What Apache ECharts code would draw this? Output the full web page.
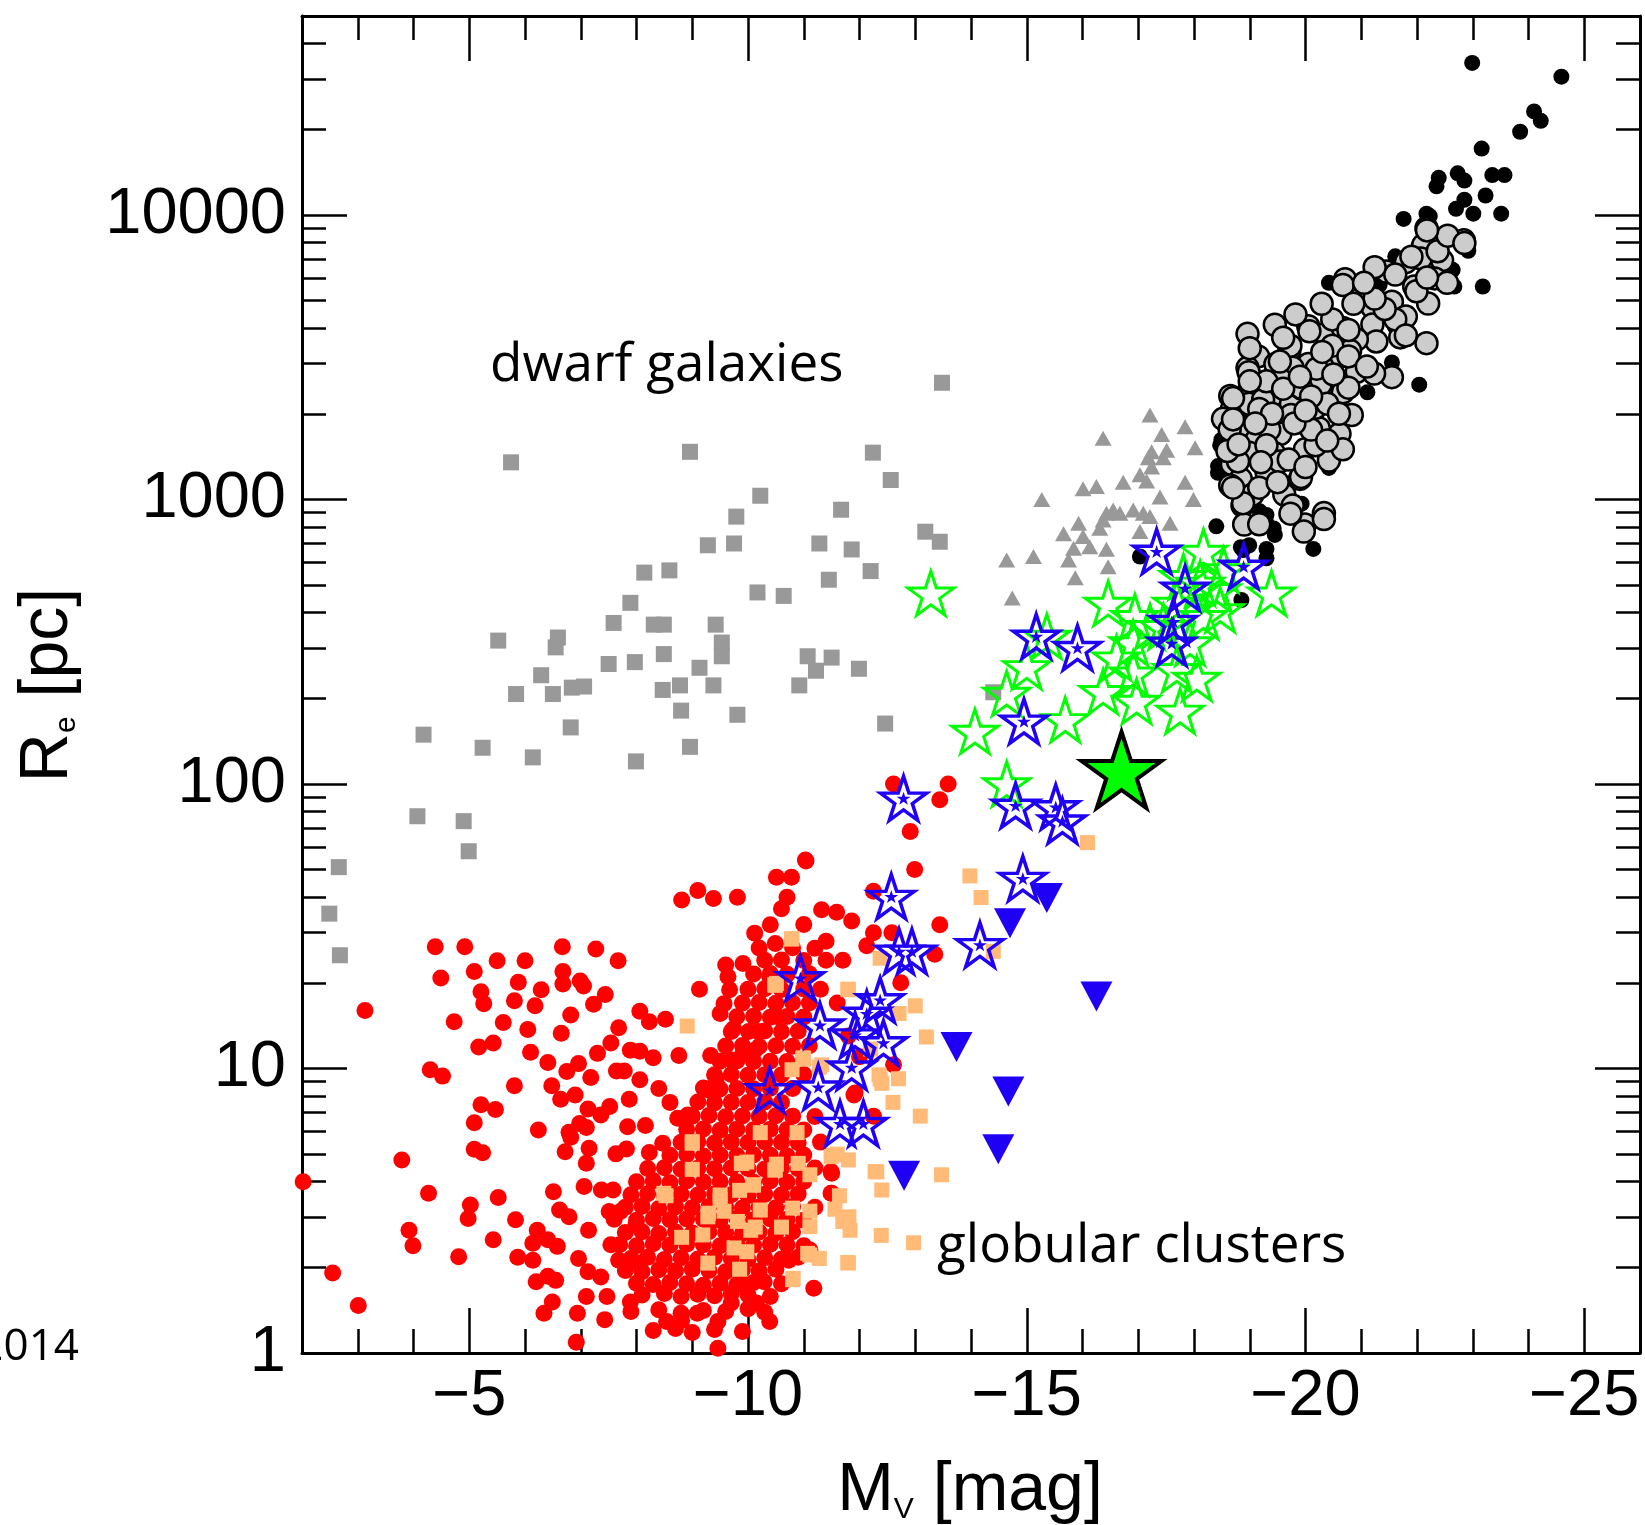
<!DOCTYPE html>
<html><head><meta charset="utf-8">
<script src="https://cdn.jsdelivr.net/npm/echarts@6/dist/echarts.min.js"></script>
<style>html,body{margin:0;padding:0;background:#fff}#chart{width:1645px;height:1525px}</style>
</head><body><div id="chart"></div>
<script>
// ---------------- tick values ----------------
const xMajorTicks = [-25, -20, -15, -10, -5];
const yMajorTicks = [1, 10, 100, 1000, 10000];
const yMinorTicks = [2,3,4,5,6,7,8,9,20,30,40,50,60,70,80,90,200,300,400,500,600,700,800,900,
  2000,3000,4000,5000,6000,7000,8000,9000,20000,30000,40000];

// ---------------- data: [Mv, Re(pc)] ----------------
const dwarfSquares = [[-13.48,2570],[-5.75,1350],[-8.96,1470],[-12.24,1460],[-12.56,1170],[-10.22,1030],[-9.79,870],[-11.67,920],[-9.28,690],[-9.75,700],[-13.18,770],[-13.44,710],[-11.28,700],[-11.86,667],[-8.14,553],[-8.59,563],[-12.2,560],[-11.45,522],[-10.17,471],[-10.64,458],[-7.89,433],[-7.59,368],[-8.31,363],[-8.49,363],[-9.42,363],[-9.53,314],[-9.53,281],[-5.52,319],[-6.59,327],[-6.55,302],[-8.49,286],[-7.5,264],[-7.97,268],[-9.13,256],[-11.07,281],[-11.5,278],[-11.99,254],[-6.29,241],[-11.22,250],[-5.84,207],[-6.5,207],[-6.84,218],[-7.06,220],[-8.47,214],[-8.78,222],[-9.38,222],[-10.92,222],[-8.8,181],[-4.18,149],[-6.82,158],[-9.81,175],[-12.46,163],[-5.24,134],[-6.14,124],[-8.96,135],[-7.99,120],[-4.07,77],[-4.9,74],[-4.99,58],[-2.66,51],[-2.49,35],[-2.68,25],[-14.4,210]];

const dwarfTriangles = [[-17.21,1980],[-17.84,1800],[-17.42,1690],[-16.37,1640],[-18.02,1520],[-17.24,1470],[-17.51,1490],[-17.18,1400],[-17.45,1400],[-17.24,1300],[-17.03,1220],[-16.73,1150],[-17.15,1160],[-17.84,1150],[-16.01,1090],[-16.25,1110],[-15.27,1000],[-17.39,1020],[-17.99,1000],[-16.55,918],[-16.43,894],[-16.91,918],[-16.67,894],[-17.09,894],[-16.37,847],[-17.21,870],[-15.93,825],[-17.57,825],[-16.31,792],[-15.66,757],[-16.01,740],[-17.03,771],[-16.13,682],[-15.84,673],[-16.43,668],[-14.64,613],[-15.12,630],[-15.75,613],[-16.46,580],[-15.87,531],[-14.74,450]];

const redGlobulars = [
[-2.02,4.0],[-2.55,1.91],[-3.01,1.47],[-3.13,16],[-3.79,4.77],[-3.92,2.7],[-3.99,2.38],[-4.27,3.64],[-4.81,2.18],[-5.02,3.31],[-4.98,2.97],[-4.39,26.8],[-4.92,26.8],[-4.49,20.8],[-5.09,21.9],[-4.73,14.6],[-5.21,18.6],[-5.26,16.9],[-5.5,23.9],[-6.0,23.9],[-6.67,26.8],[-7.27,26.3],[-7.67,23.9],[-5.61,14.5],[-5.81,17.3],[-5.88,20.1],[-6.29,18.9],[-6.18,16.6],[-6.05,13.7],[-6.68,21.9],[-6.68,19.8],[-6.99,20.3],[-7.05,19.5],[-7.44,18.2],[-7.23,16.8],[-5.17,11.9],[-5.43,12.3],[-6.1,11.4],[-6.82,15.4],[-6.65,13.3],[-7.3,11.3],[-7.54,12.3],[-7.68,13.9],[-8.06,15.9],[-8.23,14.6],[-8.52,14.9],[-9.13,19],[-8.81,39.1],[-9.1,42.2],[-9.38,39.6],[-9.81,40],[-11.04,53.6],[-10.78,47],[-10.6,36.4],[-11.32,36.1],[-10.12,29.9],[-9.91,23.4],[-9.64,21],[-9.67,18.9],[-9.57,16.9],[-9.5,15.6],[-9.74,13.8],[-10.01,13.5],[-10.18,13.5],[-10.39,21],[-10.53,15.2],[-10.12,11.6],[-9.71,10.7],[-9.91,11.3],[-9.33,11.1],[-8.76,11.1],[-8.3,10.9],[-8.06,11.5],[-7.89,11.6],[-4.3,9.9],[-4.52,9.4],[-5.81,8.7],[-5.21,7.45],[-5.47,7.18],[-5.09,6.45],[-5.09,5.2],[-5.24,5.06],[-6.24,6.08],[-6.41,10.5],[-6.75,9.76],[-6.96,10.4],[-7.18,9.29],[-6.48,8.7],[-6.64,7.8],[-6.9,8.07],[-7.13,7.2],[-7.36,6.86],[-7.52,7.35],[-7.64,9.8],[-7.78,9.8],[-8.06,9.12],[-7.87,7.8],[-8.16,6.3],[-7.84,6.24],[-6.98,6.4],[-6.79,5.97],[-6.82,5.73],[-7.1,6.2],[-6.72,5.1],[-7.15,5.24],[-7.1,4.64],[-7.63,5.01],[-7.82,5.21],[-8.23,5.07],[-8.47,5.46],[-8.74,6.68],[-8.92,6.86],[-9.29,8.4],[-9.43,9.2],[-9.6,23.1],[-11.59,35.4],[-10.49,27.5],
[-5.52,3.52],[-5.43,2.5],[-5.83,2.94],[-6.22,2.7],[-6.14,2.43],[-6.41,2.5],[-6.58,2.37],[-5.87,2.17],[-6.14,2.12],[-6.2,1.78],[-6.55,1.8],[-6.41,1.86],[-6.49,1.51],[-6.34,1.38],[-6.94,1.38],[-6.92,1.09],[-7.1,1.58],[-7.47,1.58],[-7.43,1.31],[-7.89,1.51],[-6.96,2.15],[-7.13,1.93],[-7.36,1.85],[-7.54,2.4],[-6.51,3.69],[-6.62,3.18],[-6.79,3.01],[-7.14,2.7],[-7.06,3.85],[-7.37,3.74],[-7.58,3.74],[-7.51,3.14],[-7.71,3.14],[-7.99,2.82],[-7.68,2.12],[-8.02,2.07],[-8.54,1.29],[-8.81,1.3],[-9.09,1.38],[-9.46,1.29],[-9.46,1.04],[-9.7,1.5],[-10.15,1.5],[-10.39,1.29],[-11.18,1.69],[-10.73,2.12],[-10.29,1.78],[-9.88,1.76],[-11.49,4.34],[-11.49,3.64],[-11.11,2.3],[-11.9,8.07],
[-12.61,100],[-13.59,100],[-13.44,88],[-12.91,68],[-12.99,50],[-13.44,32],[-12.25,42],[-13.35,25.2],[-12.74,20],[-12.61,10.3],[-11.92,8.2],[-11.5,4.28],[-11.5,3.64],[-12.25,6.8],[-12.25,30],[-12.58,30],[-11.86,33],[-12.13,27],[-11.7,24],[-11.4,28],[-11.6,17],[-11.8,13],[-12.0,11],[-10.51,47],[-11.03,54],[-10.7,40],
[-8.3,1.2],[-8.7,1.22],[-9.0,1.18],[-9.4,1.21],[-9.9,1.19],
[-7.9,1.4],[-8.4,1.42],[-8.8,1.38],[-9.2,1.41],[-9.6,1.4],[-10.0,1.43],[-10.3,1.39],
[-8.1,1.6],[-8.5,1.62],[-8.8,1.58],[-9.1,1.61],[-9.4,1.59],[-9.7,1.62],[-10.0,1.6],[-10.4,1.58],
[-8.0,1.76],[-8.3,1.74],[-8.6,1.77],[-8.9,1.75],[-9.2,1.73],[-9.5,1.76],[-9.8,1.74],[-10.1,1.77],[-10.6,1.75],
[-7.8,1.95],[-8.1,1.93],[-8.4,1.96],[-8.7,1.94],[-9.0,1.97],[-9.3,1.95],[-9.6,1.93],[-9.9,1.96],[-10.2,1.94],[-10.5,1.97],
[-7.9,2.15],[-8.2,2.17],[-8.5,2.13],[-8.8,2.16],[-9.1,2.14],[-9.4,2.17],[-9.7,2.15],[-10.0,2.13],[-10.3,2.16],[-10.6,2.14],[-10.9,2.17],
[-7.7,2.4],[-8.0,2.38],[-8.3,2.42],[-8.6,2.39],[-8.9,2.41],[-9.2,2.4],[-9.5,2.38],[-9.8,2.42],[-10.1,2.39],[-10.4,2.41],[-10.7,2.4],[-11.0,2.38],
[-7.8,2.65],[-8.1,2.67],[-8.4,2.63],[-8.7,2.66],[-9.0,2.64],[-9.3,2.67],[-9.6,2.65],[-9.9,2.63],[-10.2,2.66],[-10.5,2.64],[-10.8,2.67],
[-7.6,2.95],[-8.0,2.93],[-8.3,2.97],[-8.6,2.94],[-8.9,2.96],[-9.2,2.95],[-9.5,2.93],[-9.8,2.97],[-10.1,2.94],[-10.4,2.96],[-10.7,2.95],[-11.0,2.93],
[-7.8,3.25],[-8.1,3.28],[-8.4,3.22],[-8.7,3.26],[-9.0,3.24],[-9.3,3.27],[-9.6,3.25],[-9.9,3.23],[-10.2,3.26],[-10.5,3.24],[-10.8,3.27],[-11.2,3.25],
[-7.9,3.6],[-8.2,3.63],[-8.5,3.58],[-8.8,3.61],[-9.1,3.59],[-9.4,3.62],[-9.7,3.6],[-10.0,3.57],[-10.3,3.61],[-10.6,3.59],[-10.9,3.62],
[-8.0,4.0],[-8.3,4.03],[-8.6,3.97],[-8.9,4.02],[-9.2,3.99],[-9.5,4.01],[-9.8,4.0],[-10.1,3.98],[-10.4,4.02],[-10.7,3.99],[-11.0,4.01],
[-8.2,4.45],[-8.5,4.48],[-8.8,4.42],[-9.1,4.46],[-9.4,4.44],[-9.7,4.47],[-10.0,4.45],[-10.3,4.43],[-10.6,4.46],[-10.9,4.44],[-11.2,4.47],
[-8.6,4.95],[-8.9,4.98],[-9.2,4.92],[-9.5,4.96],[-9.8,4.94],[-10.1,4.97],[-10.4,4.95],[-10.7,4.93],[-11.0,4.96],
[-8.8,5.5],[-9.1,5.53],[-9.4,5.47],[-9.7,5.51],[-10.0,5.49],[-10.3,5.52],[-10.6,5.5],[-10.9,5.48],[-11.3,5.51],
[-8.9,6.1],[-9.2,6.13],[-9.5,6.07],[-9.8,6.11],[-10.1,6.09],[-10.4,6.12],[-10.7,6.1],[-11.0,6.08],
[-9.0,6.8],[-9.3,6.83],[-9.6,6.77],[-9.9,6.81],[-10.2,6.79],[-10.5,6.82],[-10.8,6.8],[-11.2,6.78],
[-8.6,7.6],[-9.1,7.63],[-9.4,7.57],[-9.7,7.61],[-10.0,7.59],[-10.3,7.62],[-10.6,7.6],
[-8.4,8.5],[-9.2,8.53],[-9.5,8.47],[-9.8,8.51],[-10.1,8.49],[-10.4,8.52],[-10.8,8.5],
[-9.4,9.5],[-9.7,9.53],[-10.0,9.47],[-10.3,9.51],[-10.6,9.49],[-11.0,9.52],
[-9.5,10.6],[-9.8,10.63],[-10.1,10.57],[-10.4,10.61],[-10.7,10.59],
[-9.6,12],[-9.9,12.05],[-10.2,11.95],[-10.5,12.02],[-10.8,11.98],[-11.1,12.01],
[-9.7,13.5],[-10.3,13.55],[-10.6,13.45],[-10.9,13.52],
[-9.8,15.2],[-10.1,15.25],[-10.4,15.15],[-10.7,15.22],[-11.0,15.18],
[-9.9,17],[-10.2,17.05],[-10.5,16.95],[-10.8,17.02],[-11.1,16.98],
[-10.0,19],[-10.3,19.05],[-10.6,18.95],[-11.0,19.02],[-11.3,18.98],
[-10.1,21.5],[-10.4,21.55],[-10.7,21.45],[-11.1,21.52],
[-10.3,24],[-10.6,24.05],[-11.0,23.95],[-11.4,24.02],
[-10.2,26.5],[-10.8,26.55],[-11.2,26.45],
[-10.4,32],[-11.0,32.05]];

const orangeSquares = [[-16.09,62.2],[-13.98,47.5],[-14.18,39.9],[-14.4,25.8],[-10.78,28.5],[-10.48,19.7],[-11.8,18.9],[-12.37,24.4],[-13.0,16.6],[-12.71,15.6],[-13.2,12.9],[-10.99,10.9],[-11.32,10.3],[-12.37,9.2],[-12.7,9.2],[-12.4,8.87],[-12.6,7.6],[-13.09,6.8],[-11.53,4.97],[-11.8,4.77],[-12.31,4.33],[-12.4,3.74],[-13.47,4.23],[-9.89,4.64],[-10.48,4.4],[-10.9,4.64],[-11.11,4.23],[-10.1,3.89],[-9.5,3.59],[-12.97,2.44],[-12.39,2.59],[-11.79,2.08],[-10.81,1.83],[-11.07,2.24],[-11.81,3.01],[-11.64,3.57],[-11.6,5.0],[-10.88,5.95],[-11.11,3.15],[-10.6,2.77],[-10.51,4.61],[-10.22,5.95],[-9.98,4.69],[-9.85,3.73],[-9.57,3.15],[-10.13,2.77],[-9.28,3.01],[-9.0,5.46],[-9.0,4.42],[-8.53,3.57],[-8.81,2.55],[-9.75,2.34],[-9.85,1.97],[-10.79,9.9],[-8.91,14.1],[-10.51,19.9],[-10.79,28.6],[-11.79,19],[-11.0,10.8],[-12.2,11.7],[-12.35,9.5],[-10.49,19.6],[-10.98,10.8],[-11.28,10.1],[-9.0,5.53],[-9.88,4.64],[-10.49,4.4],[-8.49,3.64],[-9.29,3.1],[-9.5,3.45],[-10.08,3.9],[-10.22,3.18],[-9.81,2.9],[-10.05,2.7],[-9.19,2.6],[-9.98,2.27],[-9.28,2.07],[-10.8,3.23],[-11.11,2.78],[-11.56,3.2],[-11.7,2.9],[-11.83,2.7],[-11.11,2.21],[-11.28,2.15],[-11.8,2.07],[-10.8,1.81],[-12.28,4.34],[-11.49,4.9]];

const blackDots = [[-22.99,34200],[-24.59,30600],[-24.1,23100],[-24.22,21400],[-23.85,19600],[-23.16,17100],[-23.35,13800],[-23.57,13800],[-22.39,13500],[-22.35,12600],[-22.73,14000],[-22.85,13200],[-22.85,11300],[-22.7,10500],[-23.01,10100],[-23.23,11700],[-23.51,10100],[-21.76,9680],[-22.17,10100],[-22.23,9900],[-22.48,8070],[-22.6,8190],[-22.92,7480],[-22.64,6410],[-22.67,5600],[-21.61,7150],[-21.27,6410],[-20.42,5770],[-21.33,5680],[-23.18,5600],[-21.55,3030],[-21.11,2380],[-22.04,2530],[-20.58,1500],[-20.42,1290],[-19.93,966],[-19.18,908],[-18.84,679],[-18.99,690],[-18.4,804],[-20.14,670],[-19.3,882],[-19.43,791],[-19.3,670],[-17.03,630],[-18.49,1620],[-18.43,1310],[-19.3,825],[-19.45,750],[-19.3,621],[-18.85,443],[-18.88,664],[-18.47,1550],[-18.43,1240]];

const grayCircles = [[-22.17,8980],[-22.84,8140],[-22.11,7830],[-22.07,7030],[-22.45,6920],[-21.8,6820],[-21.45,6320],[-20.71,5940],[-22.32,5980],[-21.95,5600],[-22.54,5770],[-20.99,5100],[-21.2,4730],[-21.55,4950],[-22.2,4880],[-21.2,4120],[-21.67,4120],[-21.8,4390],[-18.96,3820],[-20.05,4060],[-20.36,3820],[-20.67,4000],[-22.17,3540],[-21.7,3710],[-21.27,3590],[-20.92,3650],[-20.8,3330],[-20.61,3180],[-19.71,3330],[-20.05,2990],[-19.15,3180],[-18.96,2900],[-19.46,2990],[-19.77,2900],[-20.3,2940],[-20.92,2810],[-21.55,2690],[-21.23,2770],[-18.65,2310],[-18.99,2420],[-19.43,2340],[-19.74,2170],[-19.93,2450],[-20.27,2530],[-20.67,2380],[-20.83,1980],[-18.68,2070],[-18.84,1810],[-19.24,1920],[-19.74,1980],[-20.24,1780],[-20.61,1700],[-19.12,1620],[-19.55,1700],[-19.99,1500],[-19.43,1460],[-18.99,1460],[-18.68,1330],[-19.3,1250],[-19.9,1180],[-18.84,1180],[-19.05,1040],[-19.62,1040],[-18.65,1120],[-19.77,951],[-18.87,951],[-18.9,816],[-19.99,816],[-20.33,895],[-20.42,1370],[-20.67,1500],[-20.18,1550],[-18.52,1920],[-18.99,2170],[-20.18,2100],[-19.24,2240],[-19.55,2640],
[-20.07,3900],[-19.73,3470],[-20.48,3470],[-20.77,3180],[-21.1,2930],[-19.54,3050],[-20.2,2880],[-18.98,2800],[-18.7,2270],[-19.17,2080],[-19.92,2470],[-20.39,2170],[-20.77,2470],[-18.64,1760],[-19.35,1760],[-20.1,1760],[-20.39,1610],[-18.79,1360],[-19.54,1360],[-19.92,1200],[-19.17,1100],[-18.88,970],[-19.73,891],[-20.33,853],[-19.97,771],[-19.17,818],[-21.61,4290],[-21.42,4670],[-21.8,3770],[-21.24,5080],[-21.99,5390],[-22.18,6020],[-21.61,6170],[-21.9,7130],[-22.37,7450],[-22.55,8450],[-22.85,7960],[-22.18,8820],[-20.67,5670],[-21.24,6550],[-21.05,5770],[-20.86,4870],[-20.48,4290],[-20.29,4870],[-19.82,4470],[-19.45,4110],[-20.77,3940],[-18.7,1910],[-18.6,1480],[-18.7,1100],
[-19.3,2600],[-19.6,2450],[-19.9,2700],[-20.1,2300],[-19.4,2000],[-19.8,1850],[-20.0,2050],[-19.0,2600],[-19.3,1550],[-19.7,1380],[-20.0,1300],[-19.5,1150],[-19.2,1350],[-20.5,2750],[-20.6,2000],[-19.1,1850],[-18.8,1560],[-19.6,3700],[-20.3,3300],[-19.0,3400]];

const greenStars = [[-13.28,468],[-18.17,656],[-19.39,468],[-16.46,431],[-16.94,387],[-17.81,535],[-18.11,507],[-18.41,481],[-18.17,387],[-17.69,431],[-17.21,357],[-17.45,357],[-16.91,313],[-16.61,277],[-15.36,330],[-15.0,258],[-16.91,245],[-17.69,252],[-18.05,235],[-16.37,211],[-16.97,195],[-17.75,180],[-14.64,208],[-15.69,168],[-14.07,153],[-14.64,100],[-18.47,409],[-18.53,565],[-17.93,313]];

const blueStars = [[-17.33,656],[-18.89,581],[-17.84,487],[-17.63,372],[-17.6,312],[-15.17,330],[-15.91,301],[-14.95,166],[-12.79,89],[-14.8,84],[-15.52,83],[-15.64,74],[-14.93,46.5],[-12.57,40.2],[-14.16,27.2],[-12.71,25.8],[-12.94,25.8],[-10.94,20.8],[-12.37,17.4],[-12.13,15.6],[-11.29,14.2],[-11.92,13.1],[-12.43,12.3],[-11.86,10.1],[-11.26,8.6],[-10.39,8.4],[-11.65,6.4],[-12.07,6.4]];

const blueTriangles = [[-15.36,39.7],[-14.7,32.4],[-16.25,17.9],[-13.74,11.9],[-14.67,8.3],[-14.49,5.2],[-12.8,4.2]];

const bigStar = [[-16.7,112]];

// ---------------- chart ----------------
const STAR = 'path://M50 0 L61.23 34.55 L97.55 34.55 L68.16 55.9 L79.39 90.45 L50 69.1 L20.61 90.45 L31.84 55.9 L2.45 34.55 L38.77 34.55 Z';
const TICKFONT = 'Liberation Sans';
const lineBlack = {color: '#000', width: 2.5};
const G = {left: 302, top: 16, width: 1338, height: 1337};

function xAx(gridIndex, position, major) {
  return {
    gridIndex, type: 'value', position, min: -26, max: -2, interval: 1, inverse: true,
    axisLine: {show: major, onZero: false, lineStyle: {color: '#000', width: 3}},
    axisTick: major ? {inside: true, length: 45, customValues: xMajorTicks, lineStyle: lineBlack}
                    : {inside: true, length: 24, lineStyle: lineBlack},
    axisLabel: (major && position === 'bottom') ? {
      customValues: xMajorTicks, margin: 12, color: '#000', fontSize: 65, fontFamily: TICKFONT,
      formatter: v => String(v).replace('-', '\u2212')
    } : {show: false},
    splitLine: {show: false}
  };
}
function yAx(gridIndex, position, major) {
  return {
    gridIndex, type: 'log', logBase: 10, position, min: 1, max: 50000,
    axisLine: {show: major, onZero: false, lineStyle: {color: '#000', width: 3}},
    axisTick: major ? {inside: true, length: 45, customValues: yMajorTicks, lineStyle: lineBlack}
                    : {inside: true, length: 24, customValues: yMinorTicks, lineStyle: lineBlack},
    axisLabel: (major && position === 'left') ? {
      customValues: yMajorTicks, margin: 16, color: '#000', fontSize: 65, fontFamily: TICKFONT,
      formatter: v => String(Math.round(v))
    } : {show: false},
    splitLine: {show: false}
  };
}

function sc(data, opts) {
  const s = Object.assign({
    type: 'scatter', xAxisIndex: 2, yAxisIndex: 2, data, silent: true, clip: true,
    emphasis: {disabled: true}
  }, opts);
  s.itemStyle = Object.assign({opacity: 1}, s.itemStyle);
  return s;
}

const option = {
  animation: false,
  backgroundColor: '#fff',
  grid: [Object.assign({}, G), Object.assign({}, G)],
  xAxis: [xAx(0, 'bottom', false), xAx(0, 'top', false), xAx(1, 'bottom', true), xAx(1, 'top', true)],
  yAxis: [yAx(0, 'left', false), yAx(0, 'right', false), yAx(1, 'left', true), yAx(1, 'right', true)],
  series: [
    sc(dwarfSquares, {symbol: 'rect', symbolSize: 16, itemStyle: {color: '#999999'}}),
    sc(dwarfTriangles, {symbol: 'triangle', symbolSize: [17, 15], itemStyle: {color: '#999999'}}),
    sc(redGlobulars, {symbol: 'circle', symbolSize: 17, itemStyle: {color: '#ff0000'}}),
    sc(orangeSquares, {symbol: 'rect', symbolSize: 15, itemStyle: {color: '#ffbb77'}}),
    sc(blackDots, {symbol: 'circle', symbolSize: 16, itemStyle: {color: '#000000'}}),
    sc(grayCircles, {symbol: 'circle', symbolSize: 22, itemStyle: {color: '#cccccc', borderColor: '#000', borderWidth: 2.5}}),
    sc(greenStars, {symbol: STAR, symbolSize: [46, 44], itemStyle: {color: 'rgba(0,0,0,0)', borderColor: '#00ff00', borderWidth: 3}}),
    sc(blueTriangles, {symbol: 'triangle', symbolRotate: 180, symbolSize: [32, 30], itemStyle: {color: '#2000f5'}}),
    sc(blueStars, {symbol: STAR, symbolSize: [46, 44], itemStyle: {color: 'rgba(255,255,255,0)', borderColor: '#2000f5', borderWidth: 3.5}}),
    sc(blueStars, {symbol: STAR, symbolSize: [14, 13], itemStyle: {color: '#2000f5'}}),
    sc(bigStar, {symbol: STAR, symbolSize: [80, 76], itemStyle: {color: '#00ff00', borderColor: '#000', borderWidth: 4}})
  ],
  graphic: [
    {type: 'text', x: 490, y: 366, silent: true,
     style: {text: 'dwarf galaxies', font: '53px "Open Sans"', fill: '#000', align: 'left', verticalAlign: 'middle'}},
    {type: 'text', x: 937, y: 1247, silent: true,
     style: {text: 'globular clusters', font: '53px "Open Sans"', fill: '#000', align: 'left', verticalAlign: 'middle'}},
    {type: 'text', x: 79, y: 1347, silent: true,
     style: {text: '2014', font: '44px "Open Sans"', fill: '#000', align: 'right', verticalAlign: 'middle'}},
    {type: 'text', x: 970, y: 1491, silent: true,
     style: {text: '{a|M}{b|V}{a| [mag]}', align: 'center', verticalAlign: 'middle',
       rich: {a: {fontSize: 68, fontFamily: TICKFONT, fill: '#000', color: '#000'},
              b: {fontSize: 30, fontFamily: TICKFONT, fill: '#000', color: '#000', verticalAlign: 'bottom'}}}},
    {type: 'text', x: 48, y: 685, rotation: Math.PI / 2, silent: true,
     style: {text: '{a|R}{b|e}{a| [pc]}', align: 'center', verticalAlign: 'middle',
       rich: {a: {fontSize: 68, fontFamily: TICKFONT, fill: '#000', color: '#000'},
              b: {fontSize: 30, fontFamily: TICKFONT, fill: '#000', color: '#000', verticalAlign: 'bottom'}}}}
  ]
};

const chart = echarts.init(document.getElementById('chart'), null, {renderer: 'canvas'});
chart.setOption(option);
</script>
</body></html>
